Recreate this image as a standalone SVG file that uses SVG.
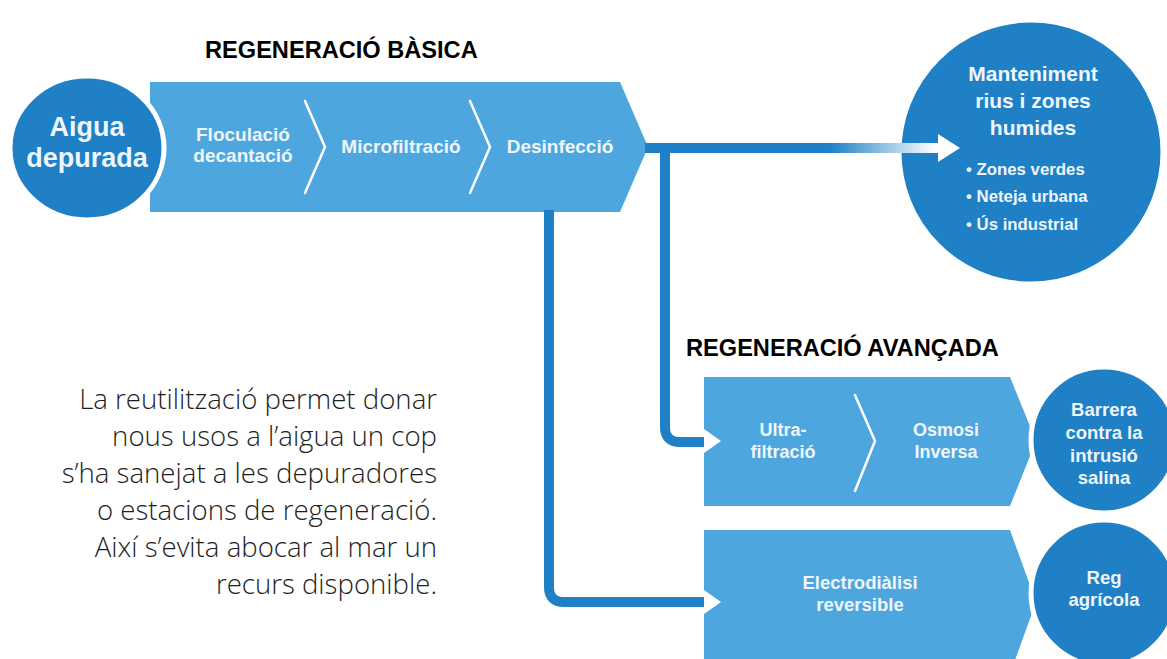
<svg xmlns="http://www.w3.org/2000/svg" width="1167" height="659" viewBox="0 0 1167 659">
<defs>
<style>
.band{fill:#4ea6de;}
.dark{fill:#1f80c6;stroke:#ffffff;stroke-width:5;}
.chev{fill:none;stroke:#ffffff;stroke-width:2.5;stroke-linecap:round;stroke-linejoin:round;}
.lt{font-family:"Liberation Sans",Arial,sans-serif;font-weight:bold;fill:#eef6fc;text-anchor:middle;}
.ls{font-family:"Liberation Sans",Arial,sans-serif;font-weight:bold;fill:#eef6fc;text-anchor:start;font-size:16.8px;}
.title{font-family:"Liberation Sans",Arial,sans-serif;font-weight:bold;font-size:23.6px;fill:#000000;}
.para{font-family:"Open Sans","Liberation Sans",sans-serif;font-weight:300;font-size:27.6px;fill:#1e1e1e;text-anchor:end;}
.conn{fill:none;stroke:#1f80c6;stroke-width:10;stroke-linejoin:round;}
</style>
<linearGradient id="fade" gradientUnits="userSpaceOnUse" x1="830" y1="0" x2="935" y2="0">
<stop offset="0" stop-color="#1f80c6"/>
<stop offset="1" stop-color="#ffffff"/>
</linearGradient>
</defs>
<rect x="0" y="0" width="1167" height="659" fill="#ffffff"/>

<text class="title" x="205" y="58">REGENERACIÓ BÀSICA</text>
<text class="title" x="686" y="356">REGENERACIÓ AVANÇADA</text>

<g id="basica">
<path class="band" d="M150,82 L620,82 L648,147 L620,212 L150,212 Z"/>
<path class="chev" d="M305,101 L325,147 L305,193"/>
<path class="chev" d="M470,101 L490,147 L470,193"/>
<text class="lt" font-size="19" x="243" y="141">Floculació</text>
<text class="lt" font-size="19" x="243" y="162">decantació</text>
<text class="lt" font-size="19" x="401" y="153">Microfiltració</text>
<text class="lt" font-size="19" x="560" y="153">Desinfecció</text>
</g>

<g id="aigua">
<ellipse class="dark" cx="87" cy="148" rx="77" ry="72" stroke-width="6"/>
<text class="lt" font-size="27" x="87" y="136">Aigua</text>
<text class="lt" font-size="27" x="87" y="167">depurada</text>
</g>

<g id="manteniment">
<circle class="dark" cx="1031" cy="152" r="132"/>
<text class="lt" font-size="21" x="1033" y="81">Manteniment</text>
<text class="lt" font-size="21" x="1033" y="108">rius i zones</text>
<text class="lt" font-size="21" x="1033" y="135">humides</text>
<text class="ls" x="966" y="175">• Zones verdes</text>
<text class="ls" x="966" y="202">• Neteja urbana</text>
<text class="ls" x="966" y="230">• Ús industrial</text>
</g>

<g id="avancada-1">
<path class="band" d="M704,377 L1010,377 L1036,441 L1010,506 L704,506 L704,453 L721,441 L704,429 Z"/>
<path class="chev" d="M855,395 L875,441 L855,491"/>
<text class="lt" font-size="18" x="783" y="436">Ultra-</text>
<text class="lt" font-size="18" x="783" y="458">filtració</text>
<text class="lt" font-size="18" x="946" y="436">Osmosi</text>
<text class="lt" font-size="18" x="946" y="458">Inversa</text>
</g>

<g id="barrera">
<circle class="dark" cx="1104" cy="440" r="73"/>
<text class="lt" font-size="18.5" x="1104" y="416">Barrera</text>
<text class="lt" font-size="18.5" x="1104" y="439">contra la</text>
<text class="lt" font-size="18.5" x="1104" y="462">intrusió</text>
<text class="lt" font-size="18.5" x="1104" y="484">salina</text>
</g>

<g id="avancada-2">
<path class="band" d="M704,530 L1010,530 L1036,602 L1010,674 L704,674 L704,614 L721,602 L704,590 Z"/>
<text class="lt" font-size="18.5" x="860" y="589">Electrodiàlisi</text>
<text class="lt" font-size="18.5" x="860" y="611">reversible</text>
</g>

<g id="reg">
<circle class="dark" cx="1104" cy="593" r="73"/>
<text class="lt" font-size="18.5" x="1104" y="584">Reg</text>
<text class="lt" font-size="18.5" x="1104" y="606">agrícola</text>
</g>

<g id="text">
<text class="para" x="437" y="409">La reutilització permet donar</text>
<text class="para" x="437" y="446">nous usos a l’aigua un cop</text>
<text class="para" x="437" y="483">s’ha sanejat a les depuradores</text>
<text class="para" x="437" y="520">o estacions de regeneració.</text>
<text class="para" x="437" y="557">Així s’evita abocar al mar un</text>
<text class="para" x="437" y="594">recurs disponible.</text>
</g>

<g id="connectors">
<path class="conn" d="M665,148 L665,427 Q665,442 680,442 L704,442"/>
<path class="conn" d="M549,210 L549,587 Q549,602 564,602 L704,602"/>
<path fill="none" stroke="url(#fade)" stroke-width="10" d="M645,148 L940,148"/>
<path fill="#ffffff" d="M938,134 L960,148 L938,162 Z"/>
</g>
</svg>
